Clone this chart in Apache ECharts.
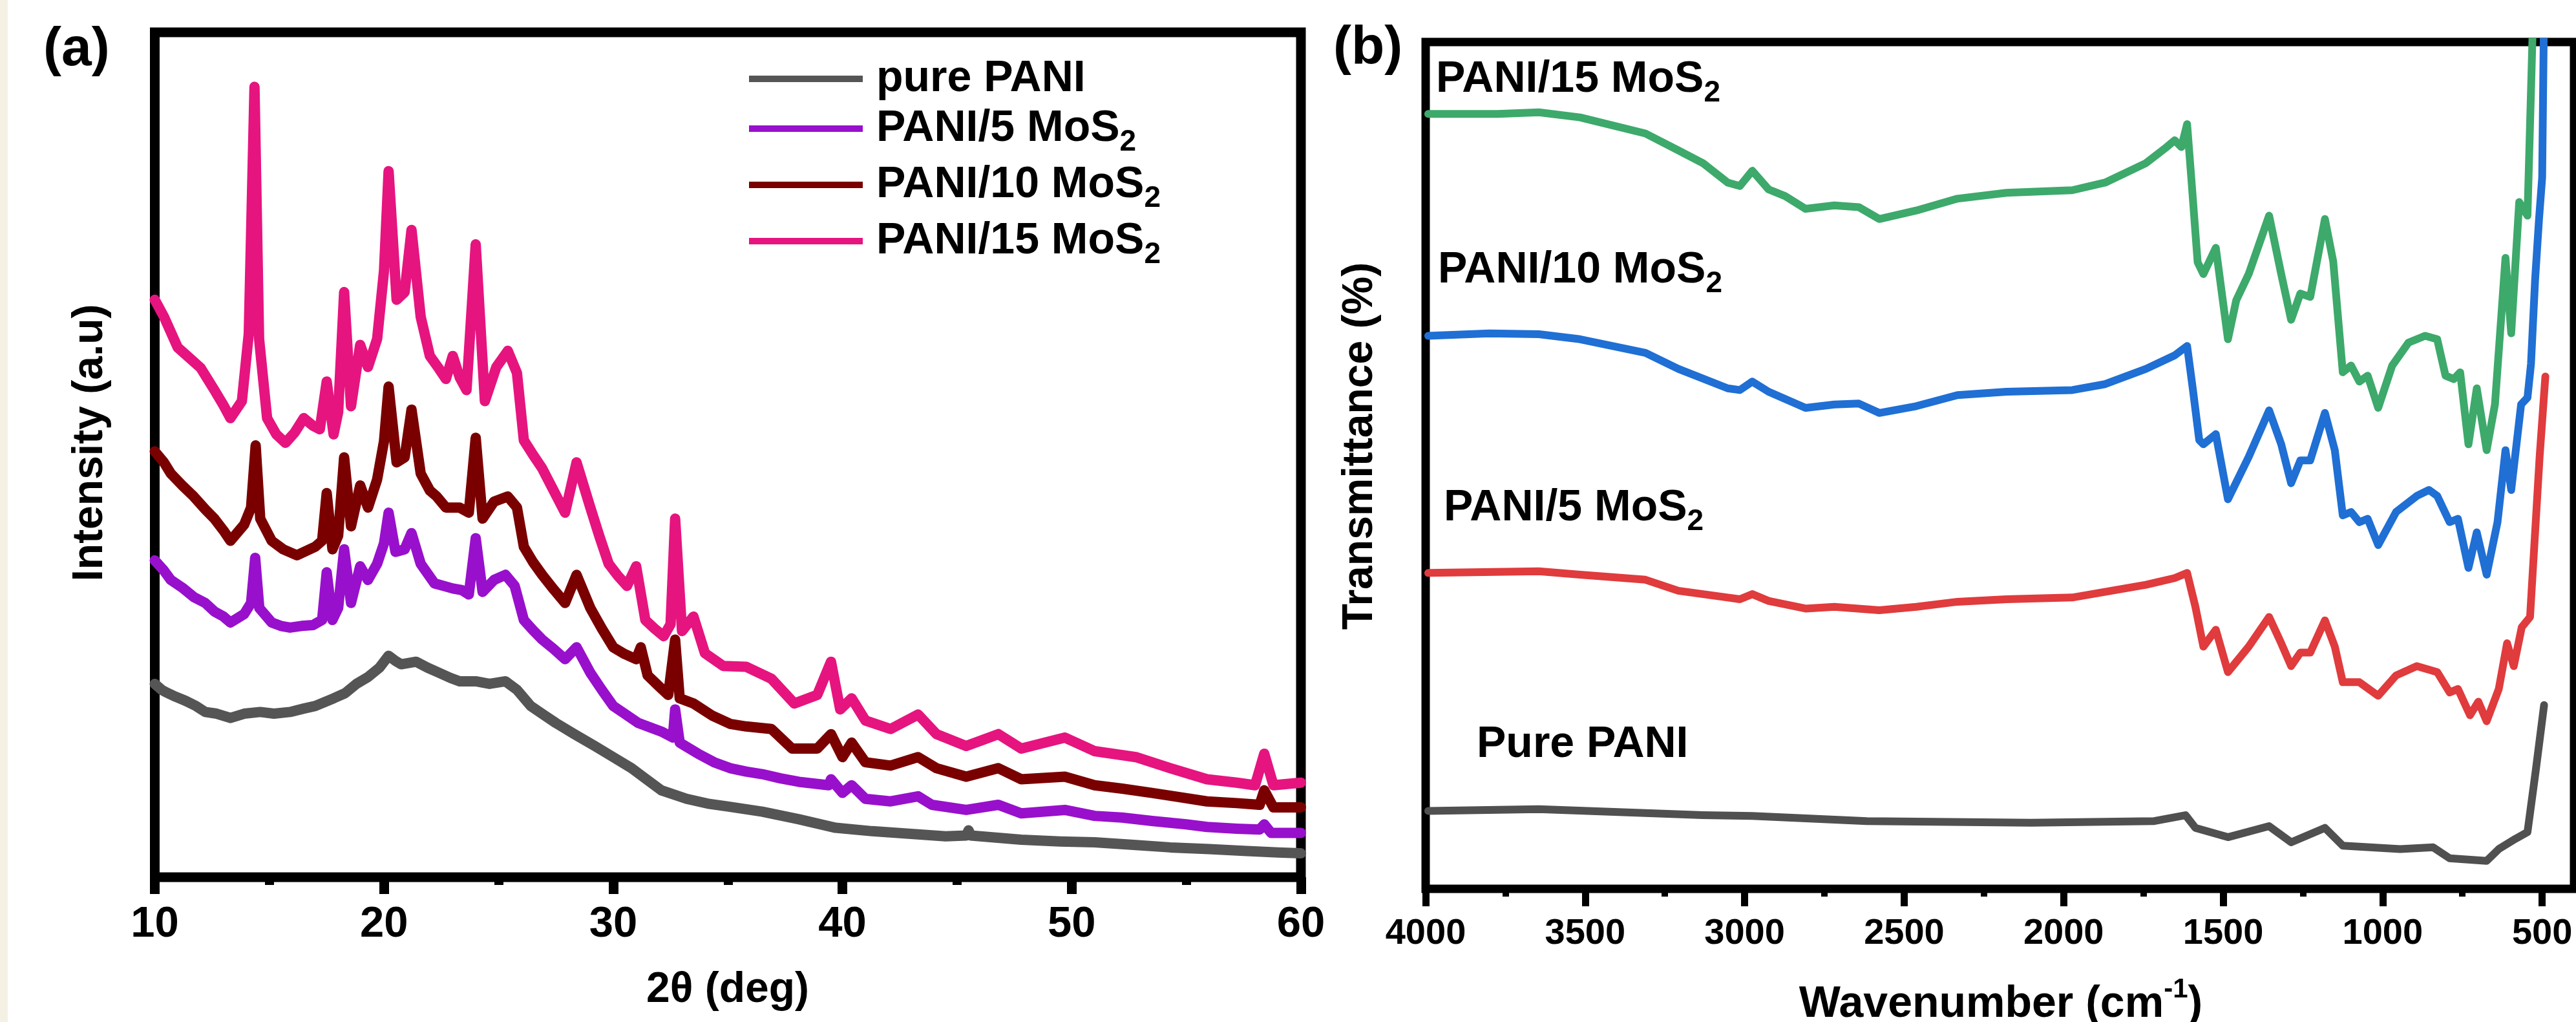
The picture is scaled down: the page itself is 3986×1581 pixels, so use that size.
<!DOCTYPE html>
<html><head><meta charset="utf-8">
<script src="https://cdn.jsdelivr.net/npm/echarts@6/dist/echarts.min.js"></script>
<style>html,body{margin:0;padding:0;background:#fff;}#c{width:3986px;height:1581px;}</style>
</head><body><div id="c"></div>
<script>
// ---------- (a) XRD ----------
const xrdTicks = [10, 20, 30, 40, 50, 60];
const xrdNames = ['pure PANI', 'PANI/5 MoS2', 'PANI/10 MoS2', 'PANI/15 MoS2'];
const xrdPure = [[10,23.5],[10.3,22.8],[10.5,22.5],[10.9,22.0],[11.35,21.5],[11.8,20.9],[12.2,20.2],[12.7,20.0],[13.3,19.5],[13.9,20.0],[14.6,20.2],[15.2,20.0],[15.9,20.2],[16.5,20.6],[17.0,20.9],[17.8,21.8],[18.3,22.4],[18.8,23.5],[19.3,24.3],[19.8,25.4],[20.2,26.8],[20.5,26.2],[20.75,25.8],[21.4,26.1],[21.9,25.4],[22.4,24.8],[22.9,24.2],[23.3,23.8],[24.0,23.8],[24.6,23.5],[25.3,23.8],[25.8,22.8],[26.4,20.9],[27.0,19.8],[27.5,18.9],[28.3,17.6],[29.2,16.2],[30.0,14.9],[30.8,13.6],[31.5,12.2],[32.1,11.0],[33.2,10.0],[34.2,9.4],[35.0,9.1],[36.5,8.5],[38.1,7.6],[39.7,6.6],[41.3,6.2],[42.9,5.9],[44.5,5.6],[45.4,5.7],[45.5,6.3],[45.6,5.7],[47.8,5.2],[49.5,5.0],[51.0,4.9],[52.7,4.6],[54.3,4.3],[56.0,4.1],[57.5,3.9],[59.0,3.7],[60,3.6]];
const xrd5 = [[10,38.0],[10.4,36.8],[10.7,35.7],[11.2,34.8],[11.7,33.7],[12.2,33.0],[12.6,32.0],[13.0,31.4],[13.3,30.7],[13.9,31.7],[14.2,33.0],[14.38,38.3],[14.56,32.4],[15.1,30.7],[15.5,30.3],[15.9,30.1],[16.4,30.3],[16.9,30.4],[17.3,31.0],[17.5,36.6],[17.75,31.0],[18.0,32.4],[18.26,39.3],[18.56,33.0],[18.96,37.3],[19.3,35.7],[19.7,37.6],[20.0,40.0],[20.2,43.6],[20.5,39.0],[20.9,39.3],[21.2,41.2],[21.6,37.6],[22.2,35.3],[22.6,35.0],[23.0,34.7],[23.4,34.5],[23.7,34.0],[24.0,40.6],[24.3,34.3],[24.8,35.7],[25.3,36.3],[25.7,35.0],[26.1,31.0],[26.5,29.8],[26.9,28.7],[27.4,27.6],[27.9,26.4],[28.4,27.8],[29.0,24.8],[29.5,22.8],[30.0,20.9],[30.5,20.0],[31.1,18.9],[32.1,17.9],[32.6,17.2],[32.7,20.5],[32.9,16.6],[33.7,15.3],[34.4,14.3],[35.1,13.6],[35.8,13.2],[36.5,12.9],[37.3,12.4],[38.1,12.0],[39.4,11.6],[39.5,12.3],[40.0,10.7],[40.4,11.6],[41.0,10.0],[42.1,9.7],[43.3,10.3],[43.9,9.3],[45.4,8.7],[46.8,9.3],[47.8,8.3],[49.7,8.7],[51.0,8.0],[52.2,7.8],[53.5,7.4],[55.0,7.0],[55.9,6.7],[57.2,6.5],[58.2,6.4],[58.4,7.0],[58.7,6.0],[60,6.0]];
const xrd10 = [[10,50.8],[10.4,49.5],[10.7,48.2],[11.2,46.8],[11.7,45.5],[12.2,44.0],[12.6,42.9],[13.0,41.5],[13.3,40.3],[13.9,42.2],[14.2,44.2],[14.4,51.5],[14.6,42.9],[15.1,40.3],[15.6,39.3],[16.2,38.6],[17.0,39.6],[17.3,40.3],[17.5,45.9],[17.75,39.3],[18.0,40.9],[18.26,50.1],[18.56,42.0],[18.96,46.8],[19.3,44.2],[19.7,47.5],[20.0,52.0],[20.2,58.4],[20.55,49.5],[20.9,50.1],[21.2,55.7],[21.6,48.2],[22.0,46.2],[22.3,45.5],[22.7,44.2],[23.3,44.2],[23.7,43.6],[24.0,52.4],[24.3,42.9],[24.8,44.9],[25.4,45.5],[25.8,44.2],[26.1,39.6],[26.5,37.8],[26.9,36.3],[27.4,34.6],[27.9,33.0],[28.4,36.3],[29.0,32.4],[29.5,30.0],[30.0,27.8],[30.5,27.0],[31.0,26.4],[31.2,27.8],[31.5,24.5],[32.0,23.2],[32.4,22.2],[32.7,28.7],[32.9,21.8],[33.5,21.2],[34.3,19.8],[35.1,18.8],[35.8,18.5],[36.9,18.2],[37.8,15.9],[38.9,15.9],[39.5,17.6],[40.0,14.9],[40.4,16.6],[41.0,14.3],[42.1,13.9],[43.3,14.9],[44.1,13.6],[45.4,12.6],[46.8,13.6],[47.8,12.3],[49.7,12.6],[51.0,11.6],[52.2,11.2],[53.5,10.7],[54.7,10.2],[55.9,9.7],[57.2,9.5],[58.2,9.3],[58.4,11.0],[58.8,9.0],[60,9.0]];
const xrd15 = [[10,68.6],[10.4,66.6],[11.0,63.0],[11.5,61.8],[12.0,60.6],[12.6,58.0],[13.0,56.2],[13.3,54.7],[13.8,56.7],[14.1,64.6],[14.35,93.6],[14.55,64.0],[14.9,54.7],[15.3,52.8],[15.7,51.8],[16.1,53.0],[16.5,54.7],[16.9,53.8],[17.2,53.4],[17.5,59.0],[17.8,52.8],[18.0,55.4],[18.26,69.5],[18.56,56.1],[18.96,63.3],[19.3,60.7],[19.7,64.0],[20.0,72.0],[20.2,83.7],[20.55,68.6],[20.9,69.5],[21.2,76.8],[21.6,66.6],[22.0,62.0],[22.4,60.5],[22.7,59.3],[23.0,62.0],[23.3,59.5],[23.6,58.0],[24.0,75.1],[24.4,56.7],[24.9,60.7],[25.4,62.6],[25.8,60.0],[26.1,52.1],[26.5,50.4],[26.9,48.8],[27.4,46.2],[27.9,43.6],[28.4,49.5],[29.0,44.2],[29.4,40.8],[29.8,37.6],[30.2,36.2],[30.6,35.0],[31.0,37.3],[31.4,31.0],[31.8,30.0],[32.2,29.1],[32.5,30.5],[32.7,42.9],[33.0,29.7],[33.5,31.4],[34.0,27.1],[34.8,25.6],[35.8,25.5],[36.9,24.1],[37.9,21.2],[38.9,22.2],[39.5,26.1],[39.9,20.5],[40.4,21.8],[41.0,19.2],[42.1,18.2],[43.3,19.9],[44.1,17.6],[45.4,16.2],[46.8,17.6],[47.8,15.9],[49.7,17.2],[51.0,15.6],[52.8,14.9],[54.3,13.6],[55.9,12.3],[57.2,11.9],[58.0,11.6],[58.4,15.3],[58.8,11.6],[60,11.9]];

// ---------- (b) FTIR ----------
const ftirTicks = [4000, 3500, 3000, 2500, 2000, 1500, 1000, 500];
const ftirMinorTicks = [3750, 3250, 2750, 2250, 1750, 1250, 750];
const ftirNames = ['Pure PANI', 'PANI/5 MoS2', 'PANI/10 MoS2', 'PANI/15 MoS2'];
const ftirPure = [[3992,9.2],[3645,9.4],[3131,8.7],[2976,8.6],[2617,8.0],[2102,7.8],[1716,8.0],[1618,8.7],[1587,7.2],[1485,6.1],[1356,7.4],[1287,5.5],[1181,7.2],[1125,5.1],[945,4.7],[842,4.9],[790,3.6],[674,3.3],[636,4.7],[584,5.9],[546,6.7],[520,14.0],[494,21.7]];
const ftir5 = [[3992,37.3],[3645,37.5],[3516,37.1],[3311,36.5],[3208,35.2],[3053,34.4],[3015,34.2],[2976,34.8],[2925,34.0],[2809,33.1],[2719,33.3],[2578,32.9],[2462,33.3],[2333,33.9],[2179,34.2],[1973,34.4],[1742,35.9],[1652,36.7],[1613,37.3],[1587,33.3],[1562,28.6],[1523,30.6],[1485,25.6],[1420,28.6],[1356,32.1],[1318,29.0],[1287,26.3],[1258,27.9],[1227,27.9],[1181,31.7],[1150,28.6],[1125,24.4],[1073,24.4],[1014,22.8],[958,25.2],[893,26.3],[829,25.6],[790,23.2],[764,23.6],[726,20.5],[700,22.1],[674,19.8],[636,23.6],[610,29.0],[589,26.3],[564,30.9],[538,32.1],[508,51.0],[490,60.5]];
const ftir10 = [[3992,65.3],[3800,65.6],[3645,65.5],[3516,64.9],[3311,63.3],[3208,61.4],[3053,59.1],[3015,58.9],[2976,59.9],[2925,58.7],[2809,56.8],[2719,57.2],[2642,57.3],[2578,56.2],[2462,57.0],[2333,58.3],[2179,58.7],[1973,58.9],[1870,59.6],[1742,61.4],[1652,63.0],[1613,64.1],[1595,59.0],[1575,53.0],[1562,52.5],[1523,53.7],[1485,46.0],[1420,51.0],[1356,56.5],[1318,52.5],[1287,47.9],[1258,50.6],[1227,50.6],[1181,56.2],[1150,51.8],[1125,44.1],[1099,44.5],[1073,43.3],[1047,43.7],[1014,40.6],[958,44.5],[893,46.4],[855,47.1],[829,46.4],[790,43.3],[764,43.7],[731,37.9],[705,42.1],[674,37.1],[640,43.3],[615,51.8],[597,47.1],[566,57.2],[546,58.0],[535,62.0],[522,72.0],[510,79.0],[500,84.0],[495,101]];
const ftir15 = [[3992,91.5],[3774,91.5],[3645,91.7],[3516,91.1],[3311,89.2],[3208,87.2],[3131,85.7],[3053,83.4],[3015,83.0],[2976,84.8],[2925,82.6],[2873,81.8],[2809,80.3],[2719,80.7],[2642,80.5],[2578,79.1],[2462,80.1],[2333,81.5],[2179,82.2],[1973,82.5],[1870,83.4],[1742,85.7],[1677,87.6],[1652,88.4],[1631,87.6],[1613,90.3],[1600,84.0],[1580,74.0],[1562,72.6],[1523,75.7],[1485,64.9],[1459,69.5],[1420,72.6],[1356,79.5],[1318,72.6],[1287,67.2],[1258,70.3],[1227,69.9],[1181,79.1],[1155,74.1],[1125,61.0],[1099,61.8],[1073,59.9],[1047,60.6],[1014,56.8],[970,61.8],[919,64.5],[867,65.3],[829,64.9],[803,60.6],[777,60.2],[757,61.0],[731,52.5],[705,59.1],[674,51.8],[648,57.2],[615,74.5],[597,65.6],[572,81.1],[546,79.5],[530,101]];

const FONT = '"Liberation Sans", Arial, sans-serif';
const xrdColors = ['#555555', '#9810cc', '#7a0000', '#e6147f'];
const ftirColors = ['#505050', '#e03b3d', '#1f6fd4', '#3da96b'];

const richStyle = {
  a: { fontSize: 68, fontWeight: 'bold', fontFamily: FONT, lineHeight: 88, color: '#000' },
  s: { fontSize: 46, fontWeight: 'bold', fontFamily: FONT, lineHeight: 40, verticalAlign: 'bottom', color: '#000' },
  sp: { fontSize: 68, fontWeight: 'bold', fontFamily: FONT, lineHeight: 88, color: '#000', padding: [0, 0, 0, 16] }
};
function richName(name, lead) {
  const tag = lead ? 'sp' : 'a';
  if (name.endsWith('MoS2')) return '{' + tag + '|' + name.slice(0, -1) + '}{s|2}';
  return '{' + tag + '|' + name + '}';
}

const chart = echarts.init(document.getElementById('c'), null, { renderer: 'canvas', width: 3986, height: 1581 });

const tickLabel = (size, margin) => ({ fontSize: size, fontWeight: 'bold', fontFamily: FONT, color: '#000', margin: margin, formatter: v => String(v) });

const ftirLabelY = [1152, 786, 418, 123];
const ftirLabelX = [2285, 2234, 2225, 2222];

const option = {
  backgroundColor: '#ffffff',
  animation: false,
  grid: [
    { left: 239.5, top: 50, width: 1773.5, height: 1307, show: true, borderColor: '#000', borderWidth: 15, backgroundColor: '#fff' },
    { left: 2206, top: 65, width: 1777, height: 1310, show: true, borderColor: '#000', borderWidth: 13, backgroundColor: '#fff' }
  ],
  xAxis: [
    { gridIndex: 0, type: 'value', position: 'bottom', min: 10, max: 60, interval: 10,
      axisLine: { show: false },
      axisTick: { show: true, length: 26, lineStyle: { color: '#000', width: 15 } },
      minorTick: { show: true, splitNumber: 2, length: 12, lineStyle: { color: '#000', width: 14 } },
      axisLabel: tickLabel(67, 40),
      splitLine: { show: false }, minorSplitLine: { show: false } },
    { gridIndex: 1, type: 'value', position: 'bottom', min: 400, max: 4000, inverse: true,
      axisLine: { show: false },
      axisTick: { show: true, length: 27, customValues: ftirTicks, lineStyle: { color: '#000', width: 11 } },
      axisLabel: Object.assign(tickLabel(56, 42), { customValues: ftirTicks }),
      splitLine: { show: false } },
    { gridIndex: 1, type: 'value', position: 'bottom', min: 400, max: 4000, inverse: true,
      axisLine: { show: false },
      axisTick: { show: true, length: 12, customValues: ftirMinorTicks, lineStyle: { color: '#000', width: 10 } },
      axisLabel: { show: false }, splitLine: { show: false } }
  ],
  yAxis: [
    { gridIndex: 0, type: 'value', min: 0.8, max: 100, show: false },
    { gridIndex: 1, type: 'value', min: 0, max: 100, show: false }
  ],
  legend: {
    data: xrdNames,
    orient: 'vertical',
    left: 1154, top: 83,
    itemWidth: 176, itemHeight: 10, itemGap: 9,
    icon: 'rect',
    formatter: n => richName(n, true),
    textStyle: { rich: richStyle, fontSize: 68, fontWeight: 'bold', fontFamily: FONT, color: '#000' }
  },
  series: [
    ...[xrdPure, xrd5, xrd10, xrd15].map((d, i) => ({
      name: xrdNames[i], type: 'line', xAxisIndex: 0, yAxisIndex: 0, data: d,
      showSymbol: false, symbol: 'none', clip: true,
      lineStyle: { color: xrdColors[i], width: 16, join: 'round', cap: 'round' }, itemStyle: { color: xrdColors[i] }
    })),
    ...[ftirPure, ftir5, ftir15, ftir10].map((d, j) => {
      const i = [0, 1, 3, 2][j];
      return {
        name: ftirNames[i] + ' (FTIR)', type: 'line', xAxisIndex: 1, yAxisIndex: 1, data: d,
        showSymbol: false, symbol: 'none', clip: true,
        lineStyle: { color: ftirColors[i], width: 12, join: 'round', cap: 'round' }, itemStyle: { color: ftirColors[i] }
      };
    })
  ],
  graphic: [
    { type: 'rect', left: 0, top: 0, shape: { width: 12, height: 1581 }, style: { fill: '#f4f1e4' }, silent: true },
    { type: 'text', x: 67, y: 78, style: { text: '(a)', fontSize: 84, fontWeight: 'bold', fontFamily: FONT, fill: '#000', verticalAlign: 'middle', align: 'left' } },
    { type: 'text', x: 2063, y: 76, style: { text: '(b)', fontSize: 84, fontWeight: 'bold', fontFamily: FONT, fill: '#000', verticalAlign: 'middle', align: 'left' } },
    { type: 'text', x: 1126, y: 1532, style: { text: '2θ (deg)', fontSize: 66, fontWeight: 'bold', fontFamily: FONT, fill: '#000', verticalAlign: 'middle', align: 'center' } },
    { type: 'text', x: 140, y: 685, rotation: Math.PI / 2, style: { text: 'Intensity (a.u)', fontSize: 66, fontWeight: 'bold', fontFamily: FONT, fill: '#000', verticalAlign: 'middle', align: 'center' } },
    { type: 'text', x: 2105, y: 690, rotation: Math.PI / 2, style: { text: 'Transmittance (%)', fontSize: 66, fontWeight: 'bold', fontFamily: FONT, fill: '#000', verticalAlign: 'middle', align: 'center' } },
    { type: 'text', x: 3096, y: 1554, style: {
        text: '{a|Wavenumber (cm}{sup|-1}{a|)}', align: 'center', verticalAlign: 'middle',
        rich: {
          a: { fontSize: 68, fontWeight: 'bold', fontFamily: FONT, lineHeight: 88, color: '#000' },
          sup: { fontSize: 42, fontWeight: 'bold', fontFamily: FONT, lineHeight: 58, verticalAlign: 'top', color: '#000' }
        } } },
    ...ftirNames.map((n, i) => ({
      type: 'text', x: ftirLabelX[i], y: ftirLabelY[i],
      style: { text: richName(n, false), rich: richStyle, align: 'left', verticalAlign: 'middle' }
    }))
  ]
};
chart.setOption(option);
</script></body></html>
